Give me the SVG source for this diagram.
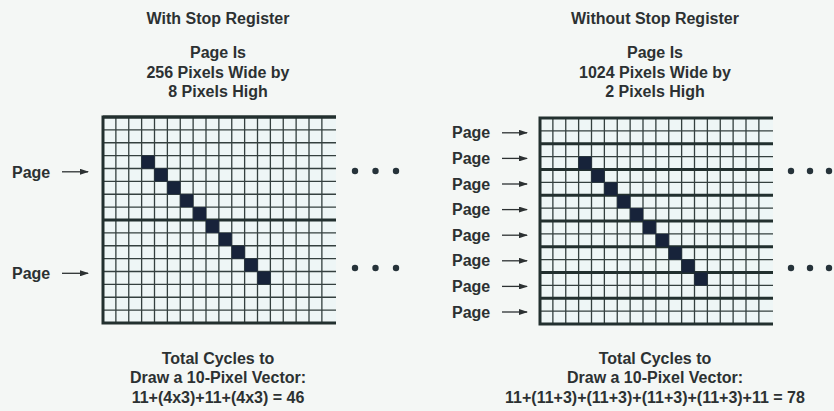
<svg xmlns="http://www.w3.org/2000/svg" width="834" height="411" viewBox="0 0 834 411">
<style>
text{font-family:"Liberation Sans",Arial,sans-serif;font-weight:bold;font-size:16px;fill:#2c3132}
.c{text-anchor:middle}
.thin{stroke:#34403f;stroke-width:1.3;fill:none}
.thick{stroke:#22302f;stroke-width:3;fill:none}
.px{fill:#17233a}
.bg{fill:#eef6f6}
.dot{fill:#26333a}
.arr{stroke:#2c3132;stroke-width:1.3;fill:none;marker-end:url(#ah)}
</style>
<defs>
<marker id="ah" markerUnits="userSpaceOnUse" markerWidth="9" markerHeight="6" refX="8" refY="3" orient="auto">
<path d="M0,0L9,3L0,6z" fill="#2c3132"/>
</marker>
</defs>
<rect width="834" height="411" fill="#f4f7f5"/>

<g id="left-headings">
<text class="c" x="218" y="24">With Stop Register</text>
<text class="c" x="218" y="58">Page Is</text>
<text class="c" x="218" y="77.5">256 Pixels Wide by</text>
<text class="c" x="218" y="97">8 Pixels High</text>
</g>
<g id="right-headings">
<text class="c" x="655" y="24">Without Stop Register</text>
<text class="c" x="655" y="58">Page Is</text>
<text class="c" x="655" y="77.5">1024 Pixels Wide by</text>
<text class="c" x="655" y="97">2 Pixels High</text>
</g>

<g id="left-grid">
<rect class="bg" x="103" y="117" width="233" height="206"/>
<path class="thin" d="M103 129.875H336M103 142.75H336M103 155.625H336M103 168.5H336M103 181.375H336M103 194.25H336M103 207.125H336M103 232.875H336M103 245.75H336M103 258.625H336M103 271.5H336M103 284.375H336M103 297.25H336M103 310.125H336"/>
<path class="thin" d="M115.875 117V323M128.75 117V323M141.625 117V323M154.5 117V323M167.375 117V323M180.25 117V323M193.125 117V323M206 117V323M218.875 117V323M231.75 117V323M244.625 117V323M257.5 117V323M270.375 117V323M283.25 117V323M296.125 117V323M309 117V323M321.875 117V323"/>
<path class="thick" d="M336 117H103V323H336M103 220H336"/>
<path class="thick" d="M103 117H336" stroke="#1d4a42"/>
<rect class="px" x="141.625" y="155.625" width="12.875" height="12.875"/>
<rect class="px" x="154.5" y="168.5" width="12.875" height="12.875"/>
<rect class="px" x="167.375" y="181.375" width="12.875" height="12.875"/>
<rect class="px" x="180.25" y="194.25" width="12.875" height="12.875"/>
<rect class="px" x="193.125" y="207.125" width="12.875" height="12.875"/>
<rect class="px" x="206" y="220" width="12.875" height="12.875"/>
<rect class="px" x="218.875" y="232.875" width="12.875" height="12.875"/>
<rect class="px" x="231.75" y="245.75" width="12.875" height="12.875"/>
<rect class="px" x="244.625" y="258.625" width="12.875" height="12.875"/>
<rect class="px" x="257.5" y="271.5" width="12.875" height="12.875"/>
</g>

<g id="right-grid">
<rect class="bg" x="540" y="118" width="233" height="206"/>
<path class="thin" d="M540 130.875H773M540 156.625H773M540 182.375H773M540 208.125H773M540 233.875H773M540 259.625H773M540 285.375H773M540 311.125H773"/>
<path class="thin" d="M552.875 118V324M565.75 118V324M578.625 118V324M591.5 118V324M604.375 118V324M617.25 118V324M630.125 118V324M643 118V324M655.875 118V324M668.75 118V324M681.625 118V324M694.5 118V324M707.375 118V324M720.25 118V324M733.125 118V324M746 118V324M758.875 118V324"/>
<path class="thick" d="M773 118H540V324H773M540 143.75H773M540 169.5H773M540 195.25H773M540 221H773M540 246.75H773M540 272.5H773M540 298.25H773"/>
<rect class="px" x="578.625" y="156.625" width="12.875" height="12.875"/>
<rect class="px" x="591.5" y="169.5" width="12.875" height="12.875"/>
<rect class="px" x="604.375" y="182.375" width="12.875" height="12.875"/>
<rect class="px" x="617.25" y="195.25" width="12.875" height="12.875"/>
<rect class="px" x="630.125" y="208.125" width="12.875" height="12.875"/>
<rect class="px" x="643" y="221" width="12.875" height="12.875"/>
<rect class="px" x="655.875" y="233.875" width="12.875" height="12.875"/>
<rect class="px" x="668.75" y="246.75" width="12.875" height="12.875"/>
<rect class="px" x="681.625" y="259.625" width="12.875" height="12.875"/>
<rect class="px" x="694.5" y="272.5" width="12.875" height="12.875"/>
</g>

<g id="left-page-labels">
<text x="12" y="177.5">Page</text>
<text x="12" y="279">Page</text>
</g>
<g id="right-page-labels">
<text x="452" y="138.3">Page</text>
<text x="452" y="163.9">Page</text>
<text x="452" y="189.5">Page</text>
<text x="452" y="215.1">Page</text>
<text x="452" y="240.7">Page</text>
<text x="452" y="266.3">Page</text>
<text x="452" y="291.9">Page</text>
<text x="452" y="317.5">Page</text>
</g>

<g id="connectors">
<line class="arr" x1="62" y1="171.8" x2="88" y2="171.8"/>
<line class="arr" x1="62" y1="273.3" x2="88" y2="273.3"/>
<line class="arr" x1="502" y1="132.8" x2="527" y2="132.8"/>
<line class="arr" x1="502" y1="158.4" x2="527" y2="158.4"/>
<line class="arr" x1="502" y1="184" x2="527" y2="184"/>
<line class="arr" x1="502" y1="209.6" x2="527" y2="209.6"/>
<line class="arr" x1="502" y1="235.2" x2="527" y2="235.2"/>
<line class="arr" x1="502" y1="260.8" x2="527" y2="260.8"/>
<line class="arr" x1="502" y1="286.4" x2="527" y2="286.4"/>
<line class="arr" x1="502" y1="312" x2="527" y2="312"/>
</g>

<g id="left-ellipses">
<circle class="dot" cx="355" cy="171" r="3.2"/>
<circle class="dot" cx="375.5" cy="171" r="3.2"/>
<circle class="dot" cx="396" cy="171" r="3.2"/>
<circle class="dot" cx="355" cy="268" r="3.2"/>
<circle class="dot" cx="375.5" cy="268" r="3.2"/>
<circle class="dot" cx="396" cy="268" r="3.2"/>
</g>
<g id="right-ellipses">
<circle class="dot" cx="791" cy="171" r="3.2"/>
<circle class="dot" cx="810" cy="171" r="3.2"/>
<circle class="dot" cx="829" cy="171" r="3.2"/>
<circle class="dot" cx="791" cy="268" r="3.2"/>
<circle class="dot" cx="810" cy="268" r="3.2"/>
<circle class="dot" cx="829" cy="268" r="3.2"/>
</g>

<g id="left-total">
<text class="c" x="218" y="364">Total Cycles to</text>
<text class="c" x="218" y="383.3">Draw a 10-Pixel Vector:</text>
<text class="c" x="218" y="402.6">11+(4x3)+11+(4x3) = 46</text>
</g>
<g id="right-total">
<text class="c" x="655" y="364">Total Cycles to</text>
<text class="c" x="655" y="383.3">Draw a 10-Pixel Vector:</text>
<text class="c" x="655" y="402.6">11+(11+3)+(11+3)+(11+3)+(11+3)+11 = 78</text>
</g>
</svg>
